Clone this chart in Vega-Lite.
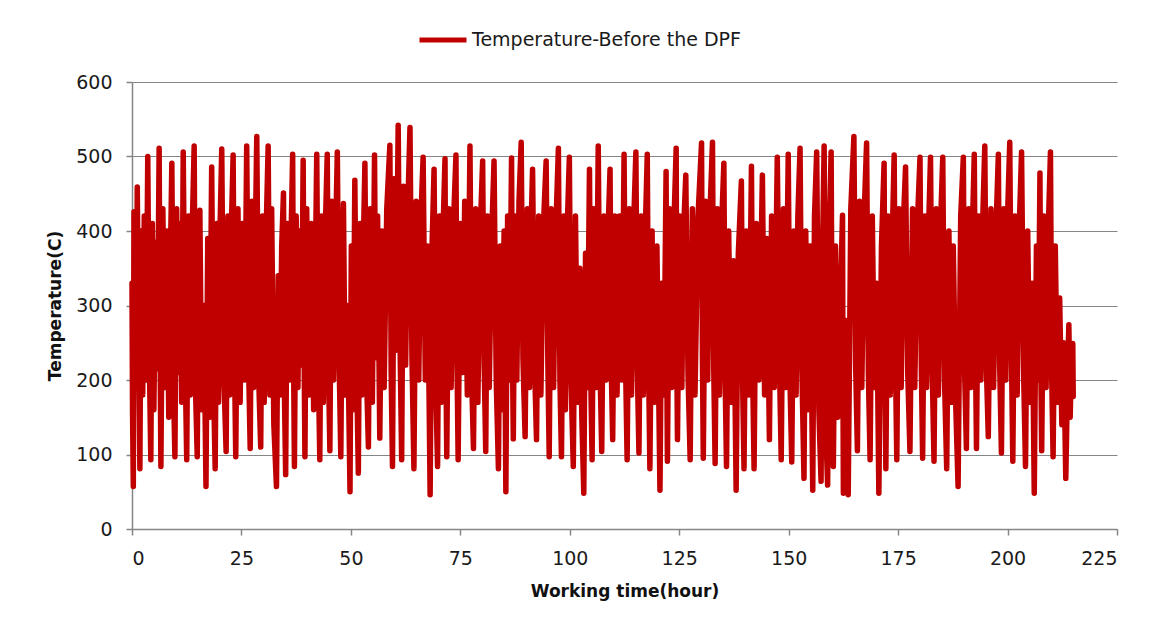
{
  "$schema": "https://vega.github.io/schema/vega-lite/v6.json",
  "width": 985,
  "height": 447,
  "autosize": "none",
  "padding": {"left": 132, "top": 82, "right": 39, "bottom": 101},
  "background": "white",
  "config": {
    "view": {"stroke": null},
    "font": "DejaVu Sans"
  },
  "data": {
    "values": [
{"hour":0.00,"temp":330},{"hour":0.12,"temp":160},{"hour":0.30,"temp":57},{"hour":0.45,"temp":426},{"hour":0.65,"temp":190},{"hour":0.85,"temp":390},{"hour":1.00,"temp":230},{"hour":1.20,"temp":459},{"hour":1.50,"temp":250},{"hour":1.80,"temp":81},
{"hour":2.10,"temp":400},{"hour":2.45,"temp":180},{"hour":2.80,"temp":420},{"hour":3.20,"temp":200},{"hour":3.60,"temp":500},{"hour":3.95,"temp":230},{"hour":4.30,"temp":93},{"hour":4.65,"temp":410},{"hour":5.00,"temp":160},{"hour":5.40,"temp":385},
{"hour":5.80,"temp":215},{"hour":6.20,"temp":511},{"hour":6.40,"temp":260},{"hour":6.60,"temp":84},{"hour":7.05,"temp":430},{"hour":7.50,"temp":190},{"hour":7.95,"temp":400},{"hour":8.40,"temp":150},{"hour":8.75,"temp":350},{"hour":9.10,"temp":491},
{"hour":9.45,"temp":200},{"hour":9.80,"temp":97},{"hour":10.20,"temp":430},{"hour":10.60,"temp":210},{"hour":11.00,"temp":410},{"hour":11.35,"temp":170},{"hour":11.70,"temp":506},{"hour":12.10,"temp":240},{"hour":12.50,"temp":93},{"hour":12.90,"temp":420},
{"hour":13.30,"temp":180},{"hour":13.75,"temp":400},{"hour":14.20,"temp":514},{"hour":14.50,"temp":190},{"hour":14.90,"temp":97},{"hour":15.20,"temp":350},{"hour":15.50,"temp":428},{"hour":15.90,"temp":160},{"hour":16.40,"temp":300},{"hour":16.90,"temp":57},
{"hour":17.30,"temp":390},{"hour":17.70,"temp":150},{"hour":18.20,"temp":486},{"hour":18.60,"temp":200},{"hour":19.00,"temp":81},{"hour":19.40,"temp":410},{"hour":19.75,"temp":170},{"hour":20.10,"temp":400},{"hour":20.50,"temp":510},{"hour":20.90,"temp":220},
{"hour":21.50,"temp":104},{"hour":21.90,"temp":420},{"hour":22.30,"temp":180},{"hour":22.70,"temp":405},{"hour":23.10,"temp":502},{"hour":23.40,"temp":230},{"hour":23.70,"temp":97},{"hour":24.20,"temp":430},{"hour":24.70,"temp":170},{"hour":25.20,"temp":410},
{"hour":25.70,"temp":200},{"hour":26.20,"temp":514},{"hour":26.60,"temp":230},{"hour":27.00,"temp":108},{"hour":27.40,"temp":440},{"hour":27.80,"temp":190},{"hour":28.15,"temp":380},{"hour":28.50,"temp":527},{"hour":28.95,"temp":200},{"hour":29.40,"temp":110},
{"hour":29.80,"temp":420},{"hour":30.20,"temp":170},{"hour":30.65,"temp":400},{"hour":31.10,"temp":514},{"hour":31.50,"temp":180},{"hour":31.90,"temp":430},{"hour":32.40,"temp":140},{"hour":33.00,"temp":57},{"hour":33.40,"temp":340},{"hour":33.80,"temp":180},
{"hour":34.20,"temp":380},{"hour":34.60,"temp":451},{"hour":34.85,"temp":170},{"hour":35.10,"temp":73},{"hour":35.50,"temp":410},{"hour":35.95,"temp":200},{"hour":36.30,"temp":380},{"hour":36.70,"temp":503},{"hour":36.90,"temp":240},{"hour":37.10,"temp":84},
{"hour":37.50,"temp":420},{"hour":37.90,"temp":190},{"hour":38.30,"temp":400},{"hour":38.70,"temp":220},{"hour":39.10,"temp":495},{"hour":39.30,"temp":250},{"hour":39.50,"temp":97},{"hour":39.90,"temp":430},{"hour":40.40,"temp":180},{"hour":40.90,"temp":410},
{"hour":41.50,"temp":160},{"hour":42.20,"temp":503},{"hour":42.55,"temp":220},{"hour":42.90,"temp":93},{"hour":43.30,"temp":420},{"hour":43.70,"temp":170},{"hour":44.15,"temp":400},{"hour":44.60,"temp":503},{"hour":44.90,"temp":210},{"hour":45.20,"temp":105},
{"hour":45.60,"temp":440},{"hour":46.05,"temp":200},{"hour":46.50,"temp":390},{"hour":46.90,"temp":506},{"hour":47.30,"temp":230},{"hour":47.70,"temp":97},{"hour":48.00,"temp":330},{"hour":48.30,"temp":437},{"hour":48.70,"temp":180},{"hour":49.20,"temp":300},
{"hour":49.80,"temp":50},{"hour":50.10,"temp":380},{"hour":50.50,"temp":160},{"hour":50.90,"temp":468},{"hour":51.30,"temp":220},{"hour":51.70,"temp":75},{"hour":52.10,"temp":410},{"hour":52.50,"temp":180},{"hour":52.85,"temp":380},{"hour":53.20,"temp":491},
{"hour":53.60,"temp":200},{"hour":54.00,"temp":110},{"hour":54.40,"temp":430},{"hour":54.90,"temp":170},{"hour":55.40,"temp":502},{"hour":55.70,"temp":230},{"hour":56.10,"temp":420},{"hour":56.60,"temp":122},{"hour":57.10,"temp":400},{"hour":57.60,"temp":190},
{"hour":58.20,"temp":430},{"hour":58.90,"temp":515},{"hour":59.20,"temp":210},{"hour":59.50,"temp":84},{"hour":59.90,"temp":470},{"hour":60.30,"temp":240},{"hour":60.80,"temp":542},{"hour":61.20,"temp":260},{"hour":61.60,"temp":93},{"hour":62.00,"temp":460},
{"hour":62.50,"temp":220},{"hour":63.00,"temp":430},{"hour":63.50,"temp":539},{"hour":63.95,"temp":230},{"hour":64.40,"temp":81},{"hour":64.90,"temp":440},{"hour":65.50,"temp":200},{"hour":66.00,"temp":420},{"hour":66.50,"temp":499},{"hour":67.00,"temp":200},
{"hour":67.50,"temp":380},{"hour":68.10,"temp":46},{"hour":68.50,"temp":370},{"hour":69.00,"temp":483},{"hour":69.40,"temp":190},{"hour":69.80,"temp":84},{"hour":70.20,"temp":420},{"hour":70.60,"temp":170},{"hour":71.05,"temp":400},{"hour":71.50,"temp":497},
{"hour":71.70,"temp":230},{"hour":71.90,"temp":97},{"hour":72.40,"temp":430},{"hour":72.90,"temp":190},{"hour":73.50,"temp":420},{"hour":74.00,"temp":502},{"hour":74.25,"temp":220},{"hour":74.50,"temp":93},{"hour":75.00,"temp":410},{"hour":75.50,"temp":210},
{"hour":76.00,"temp":440},{"hour":76.60,"temp":180},{"hour":77.20,"temp":514},{"hour":77.60,"temp":200},{"hour":78.00,"temp":108},{"hour":78.50,"temp":430},{"hour":79.00,"temp":170},{"hour":79.60,"temp":410},{"hour":80.10,"temp":494},{"hour":80.45,"temp":220},
{"hour":80.80,"temp":104},{"hour":81.20,"temp":420},{"hour":81.60,"temp":190},{"hour":82.20,"temp":400},{"hour":82.70,"temp":494},{"hour":83.20,"temp":200},{"hour":83.70,"temp":81},{"hour":84.10,"temp":380},{"hour":84.50,"temp":160},{"hour":85.00,"temp":400},
{"hour":85.40,"temp":50},{"hour":85.80,"temp":420},{"hour":86.20,"temp":200},{"hour":86.70,"temp":498},{"hour":86.90,"temp":240},{"hour":87.10,"temp":121},{"hour":87.50,"temp":420},{"hour":87.90,"temp":200},{"hour":88.40,"temp":440},{"hour":88.90,"temp":519},
{"hour":89.30,"temp":230},{"hour":89.80,"temp":124},{"hour":90.30,"temp":430},{"hour":90.80,"temp":190},{"hour":91.15,"temp":400},{"hour":91.50,"temp":483},{"hour":92.00,"temp":210},{"hour":92.40,"temp":120},{"hour":92.90,"temp":420},{"hour":93.40,"temp":180},
{"hour":94.00,"temp":410},{"hour":94.60,"temp":494},{"hour":95.00,"temp":220},{"hour":95.30,"temp":97},{"hour":95.75,"temp":430},{"hour":96.30,"temp":190},{"hour":96.85,"temp":410},{"hour":97.40,"temp":511},{"hour":97.75,"temp":200},{"hour":98.10,"temp":97},
{"hour":98.60,"temp":420},{"hour":99.00,"temp":160},{"hour":99.40,"temp":400},{"hour":99.90,"temp":499},{"hour":100.30,"temp":200},{"hour":100.80,"temp":84},{"hour":101.30,"temp":420},{"hour":101.80,"temp":170},{"hour":102.30,"temp":350},{"hour":102.75,"temp":150},
{"hour":103.20,"temp":48},{"hour":103.60,"temp":370},{"hour":104.00,"temp":190},{"hour":104.50,"temp":483},{"hour":104.80,"temp":200},{"hour":105.10,"temp":93},{"hour":105.50,"temp":430},{"hour":106.00,"temp":190},{"hour":106.50,"temp":514},{"hour":106.90,"temp":220},
{"hour":107.30,"temp":104},{"hour":107.80,"temp":420},{"hour":108.30,"temp":200},{"hour":108.75,"temp":400},{"hour":109.20,"temp":483},{"hour":109.50,"temp":210},{"hour":109.80,"temp":120},{"hour":110.30,"temp":420},{"hour":110.80,"temp":180},{"hour":111.35,"temp":420},
{"hour":111.90,"temp":200},{"hour":112.40,"temp":503},{"hour":112.75,"temp":220},{"hour":113.10,"temp":93},{"hour":113.60,"temp":430},{"hour":114.10,"temp":180},{"hour":114.60,"temp":410},{"hour":115.10,"temp":506},{"hour":115.45,"temp":210},{"hour":115.80,"temp":102},
{"hour":116.30,"temp":420},{"hour":116.80,"temp":180},{"hour":117.25,"temp":400},{"hour":117.70,"temp":503},{"hour":118.00,"temp":220},{"hour":118.30,"temp":81},{"hour":118.80,"temp":400},{"hour":119.25,"temp":170},{"hour":119.90,"temp":380},{"hour":120.60,"temp":52},
{"hour":121.00,"temp":330},{"hour":121.50,"temp":180},{"hour":122.00,"temp":480},{"hour":122.15,"temp":240},{"hour":122.30,"temp":91},{"hour":122.80,"temp":430},{"hour":123.30,"temp":190},{"hour":123.80,"temp":410},{"hour":124.30,"temp":511},{"hour":124.45,"temp":230},
{"hour":124.60,"temp":120},{"hour":125.10,"temp":420},{"hour":125.60,"temp":190},{"hour":126.00,"temp":400},{"hour":126.50,"temp":475},{"hour":127.00,"temp":210},{"hour":127.50,"temp":93},{"hour":128.00,"temp":430},{"hour":128.60,"temp":180},{"hour":129.30,"temp":420},
{"hour":130.10,"temp":518},{"hour":130.30,"temp":230},{"hour":130.50,"temp":95},{"hour":131.00,"temp":440},{"hour":131.50,"temp":200},{"hour":132.00,"temp":420},{"hour":132.60,"temp":519},{"hour":132.90,"temp":210},{"hour":133.20,"temp":88},{"hour":133.70,"temp":430},
{"hour":134.20,"temp":180},{"hour":134.70,"temp":410},{"hour":135.20,"temp":491},{"hour":135.50,"temp":200},{"hour":135.80,"temp":84},{"hour":136.30,"temp":400},{"hour":136.80,"temp":170},{"hour":137.40,"temp":360},{"hour":138.00,"temp":52},{"hour":138.50,"temp":370},
{"hour":139.20,"temp":467},{"hour":139.50,"temp":190},{"hour":139.80,"temp":81},{"hour":140.30,"temp":400},{"hour":140.90,"temp":180},{"hour":141.50,"temp":487},{"hour":141.80,"temp":200},{"hour":142.10,"temp":81},{"hour":142.60,"temp":410},{"hour":143.20,"temp":200},
{"hour":144.00,"temp":475},{"hour":144.50,"temp":180},{"hour":145.00,"temp":390},{"hour":145.60,"temp":120},{"hour":146.10,"temp":420},{"hour":146.70,"temp":190},{"hour":147.40,"temp":499},{"hour":147.90,"temp":220},{"hour":148.30,"temp":93},{"hour":148.80,"temp":430},
{"hour":149.30,"temp":190},{"hour":149.90,"temp":503},{"hour":150.30,"temp":200},{"hour":150.70,"temp":90},{"hour":151.20,"temp":400},{"hour":151.70,"temp":180},{"hour":152.10,"temp":420},{"hour":152.60,"temp":511},{"hour":153.00,"temp":220},{"hour":153.50,"temp":68},
{"hour":153.90,"temp":400},{"hour":154.40,"temp":160},{"hour":154.90,"temp":380},{"hour":155.50,"temp":52},{"hour":155.90,"temp":420},{"hour":156.40,"temp":506},{"hour":156.90,"temp":160},{"hour":157.40,"temp":64},{"hour":157.75,"temp":380},{"hour":158.10,"temp":514},
{"hour":158.50,"temp":130},{"hour":158.90,"temp":59},{"hour":159.30,"temp":400},{"hour":159.70,"temp":506},{"hour":159.95,"temp":200},{"hour":160.20,"temp":84},{"hour":160.70,"temp":380},{"hour":161.20,"temp":150},{"hour":161.80,"temp":300},{"hour":162.30,"temp":421},
{"hour":162.40,"temp":200},{"hour":162.50,"temp":48},{"hour":163.00,"temp":280},{"hour":163.60,"temp":46},{"hour":164.20,"temp":430},{"hour":164.90,"temp":527},{"hour":165.30,"temp":220},{"hour":165.70,"temp":105},{"hour":166.20,"temp":440},{"hour":166.70,"temp":190},
{"hour":167.30,"temp":430},{"hour":167.80,"temp":518},{"hour":168.20,"temp":210},{"hour":168.60,"temp":93},{"hour":169.10,"temp":420},{"hour":169.60,"temp":190},{"hour":170.10,"temp":330},{"hour":170.60,"temp":48},{"hour":171.20,"temp":380},{"hour":171.80,"temp":491},
{"hour":172.00,"temp":220},{"hour":172.20,"temp":81},{"hour":172.70,"temp":420},{"hour":173.20,"temp":180},{"hour":173.70,"temp":400},{"hour":174.10,"temp":502},{"hour":174.40,"temp":220},{"hour":174.70,"temp":93},{"hour":175.20,"temp":430},{"hour":175.70,"temp":190},
{"hour":176.20,"temp":410},{"hour":176.70,"temp":486},{"hour":177.20,"temp":210},{"hour":177.70,"temp":104},{"hour":178.30,"temp":430},{"hour":178.80,"temp":190},{"hour":179.40,"temp":410},{"hour":180.00,"temp":499},{"hour":180.30,"temp":220},{"hour":180.60,"temp":95},
{"hour":181.10,"temp":420},{"hour":181.50,"temp":190},{"hour":181.95,"temp":400},{"hour":182.40,"temp":499},{"hour":182.80,"temp":210},{"hour":183.20,"temp":91},{"hour":183.70,"temp":430},{"hour":184.20,"temp":180},{"hour":184.70,"temp":410},{"hour":185.20,"temp":499},
{"hour":185.60,"temp":200},{"hour":186.10,"temp":81},{"hour":186.60,"temp":400},{"hour":187.10,"temp":170},{"hour":187.60,"temp":380},{"hour":188.20,"temp":160},{"hour":188.70,"temp":57},{"hour":189.30,"temp":420},{"hour":189.90,"temp":499},{"hour":190.20,"temp":210},
{"hour":190.60,"temp":108},{"hour":191.10,"temp":430},{"hour":191.60,"temp":190},{"hour":192.00,"temp":410},{"hour":192.40,"temp":503},{"hour":192.70,"temp":220},{"hour":192.90,"temp":108},{"hour":193.40,"temp":420},{"hour":193.90,"temp":200},{"hour":194.40,"temp":430},
{"hour":194.80,"temp":514},{"hour":195.20,"temp":210},{"hour":195.60,"temp":124},{"hour":196.20,"temp":430},{"hour":196.80,"temp":190},{"hour":197.40,"temp":410},{"hour":197.90,"temp":503},{"hour":198.20,"temp":220},{"hour":198.60,"temp":102},{"hour":199.10,"temp":430},
{"hour":199.60,"temp":200},{"hour":200.00,"temp":420},{"hour":200.50,"temp":519},{"hour":200.90,"temp":230},{"hour":201.20,"temp":91},{"hour":201.70,"temp":420},{"hour":202.20,"temp":180},{"hour":202.70,"temp":410},{"hour":203.20,"temp":506},{"hour":203.70,"temp":200},
{"hour":204.10,"temp":84},{"hour":204.60,"temp":400},{"hour":205.10,"temp":170},{"hour":205.60,"temp":330},{"hour":206.10,"temp":48},{"hour":206.60,"temp":380},{"hour":207.00,"temp":200},{"hour":207.40,"temp":478},{"hour":207.60,"temp":220},{"hour":207.80,"temp":105},
{"hour":208.30,"temp":420},{"hour":208.80,"temp":190},{"hour":209.30,"temp":400},{"hour":209.80,"temp":506},{"hour":210.10,"temp":200},{"hour":210.40,"temp":97},{"hour":210.90,"temp":380},{"hour":211.40,"temp":170},{"hour":211.90,"temp":310},{"hour":212.40,"temp":140},
{"hour":212.80,"temp":250},{"hour":213.30,"temp":68},{"hour":213.70,"temp":200},{"hour":214.00,"temp":274},{"hour":214.30,"temp":150},{"hour":214.60,"temp":230},{"hour":214.90,"temp":249},{"hour":215.00,"temp":178}
    ]
  },
  "mark": {"type": "line", "strokeWidth": 5.5, "strokeJoin": "round", "strokeCap": "round", "interpolate": "linear"},
  "encoding": {
    "x": {
      "field": "hour", "type": "quantitative",
      "scale": {"domain": [0, 225], "nice": false, "zero": false},
      "axis": {
        "title": "Working time(hour)",
        "values": [0, 25, 50, 75, 100, 125, 150, 175, 200, 225],
        "grid": false,
        "domainColor": "#868686", "domainWidth": 1.5,
        "tickColor": "#868686", "tickSize": 6, "tickWidth": 1.5,
        "labelFont": "DejaVu Sans", "labelFontSize": 19, "labelColor": "#1a1a1a", "labelPadding": 14,
        "titleFont": "DejaVu Sans", "titleFontSize": 17, "titleFontWeight": "bold", "titleColor": "#111111", "titlePadding": 15
      }
    },
    "y": {
      "field": "temp", "type": "quantitative",
      "scale": {"domain": [0, 600], "nice": false},
      "axis": {
        "title": "Temperature(C)",
        "values": [0, 100, 200, 300, 400, 500, 600],
        "grid": true, "gridColor": "#868686", "gridWidth": 1.2,
        "domainColor": "#868686", "domainWidth": 1.5,
        "tickColor": "#868686", "tickSize": 6, "tickWidth": 1.5,
        "labelFont": "DejaVu Sans", "labelFontSize": 19, "labelColor": "#1a1a1a", "labelPadding": 14,
        "titleFont": "DejaVu Sans", "titleFontSize": 17, "titleFontWeight": "bold", "titleColor": "#111111", "titlePadding": 11
      }
    },
    "color": {
      "datum": "Temperature-Before the DPF",
      "type": "nominal",
      "scale": {"range": ["#C00000"]},
      "legend": {
        "title": null,
        "orient": "none",
        "legendX": 285,
        "legendY": -68,
        "symbolType": "stroke",
        "symbolSize": 2209,
        "symbolStrokeWidth": 5,
        "labelFont": "DejaVu Sans",
        "labelFontSize": 19,
        "labelColor": "#1a1a1a",
        "labelOffset": 3,
        "labelLimit": 0
      }
    }
  }
}
